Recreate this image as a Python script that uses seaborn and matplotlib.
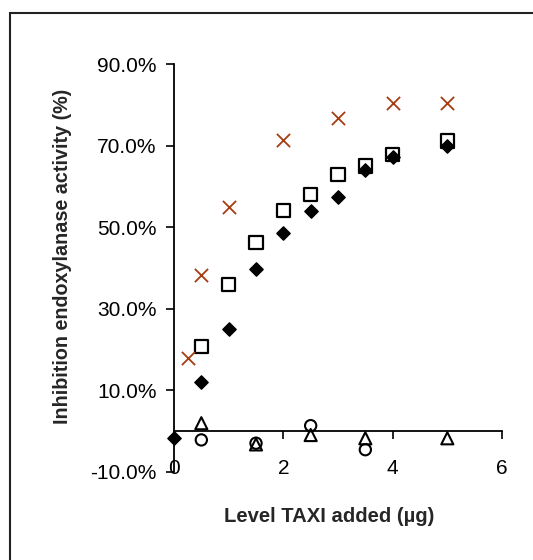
import matplotlib
matplotlib.use("Agg")
import matplotlib.pyplot as plt
import matplotlib.ticker as mticker
from matplotlib.patches import Rectangle
import seaborn as sns
import pandas as pd

# Level of TAXI added (µg) and inhibition of endoxylanase activity (%)
x_main = [0, 0.5, 1, 1.5, 2, 2.5, 3, 3.5, 4, 5]
y_filled_diamond = [-1.8, 11.9, 25.1, 39.8, 48.6, 54.0, 57.5, 64.0, 67.2, 70.0]

x_square = [0.5, 1, 1.5, 2, 2.5, 3, 3.5, 4, 5]
y_square = [20.8, 35.9, 46.2, 54.1, 58.0, 63.0, 65.0, 67.9, 71.2]

x_cross = [0.25, 0.5, 1, 2, 3, 4, 5]
y_cross = [17.8, 38.4, 54.9, 71.5, 76.9, 80.5, 80.5]

x_triangle = [0.5, 1.5, 2.5, 3.5, 5]
y_triangle = [1.9, -3.3, -1.0, -1.8, -1.8]

x_circle = [0.5, 1.5, 2.5, 3.5]
y_circle = [-2.2, -3.0, 1.3, -4.6]

x_ticks = [0, 2, 4, 6]
y_ticks = [-10, 10, 30, 50, 70, 90]

sns.set_theme(style="white")
plt.rcParams["font.family"] = ["Liberation Sans", "DejaVu Sans"]

fig = plt.figure(figsize=(5.33, 5.6), dpi=100)
ax = fig.add_axes([174 / 533, 1 - 471.7 / 560, 328 / 533, 407.4 / 560])

series = [
    ("Series 2", x_square, y_square, dict(marker="s", s=92, facecolor="none",
                                          edgecolor="black", linewidth=1.6)),
    ("Series 1", x_main, y_filled_diamond, dict(marker="D", s=46, color="black",
                                               edgecolor="black", linewidth=1.0)),
    ("Series 3", x_cross, y_cross, dict(marker="x", s=90, color="#A63C0F",
                                        linewidth=1.3)),
    ("Series 4", x_circle, y_circle, dict(marker="o", s=66, facecolor="none",
                                          edgecolor="black", linewidth=1.5)),
    ("Series 5", x_triangle, y_triangle, dict(marker="^", s=76, facecolor="none",
                                              edgecolor="black", linewidth=1.5)),
]

for name, xs, ys, style in series:
    df = pd.DataFrame({"level": xs, "inhibition": ys})
    sns.scatterplot(data=df, x="level", y="inhibition", ax=ax, legend=False,
                    zorder=3, clip_on=False, **style)

ax.set_xlim(0, 6)
ax.set_ylim(-10, 90)
ax.set_xticks(x_ticks)
ax.set_yticks(y_ticks)
ax.xaxis.set_major_formatter(mticker.FormatStrFormatter("%d"))
ax.yaxis.set_major_formatter(mticker.FuncFormatter(lambda v, p: f"{v:.1f}%"))

for side in ["top", "right"]:
    ax.spines[side].set_visible(False)
ax.spines["bottom"].set_position(("data", 0))
for side in ["left", "bottom"]:
    ax.spines[side].set_color("black")
    ax.spines[side].set_linewidth(1.3)

ax.tick_params(axis="both", which="major", direction="out", length=5.5,
               width=1.2, color="black", labelsize=15, labelcolor="black",
               left=True, bottom=True)
ax.tick_params(axis="x", pad=15)
ax.tick_params(axis="y", pad=7)

ax.set_xlabel("Level TAXI added (µg)", fontsize=14.6, fontweight="bold")
ax.set_ylabel("Inhibition endoxylanase activity (%)", fontsize=14.2,
              fontweight="bold")
ax.xaxis.set_label_coords((329 - 174) / 328, -(516 - 471.7) / 407.4)
ax.yaxis.set_label_coords(-(174 - 63) / 328, (471.7 - 256.5) / 407.4)
ax.xaxis.label.set_va("center")
ax.yaxis.label.set_va("center")
ax.grid(False)

# outer chart border
fig.patches.append(Rectangle((9.5 / 533, -0.2), 2.0, 1.2 - 13 / 560,
                             transform=fig.transFigure, fill=False,
                             edgecolor="#222222", linewidth=1.5))

fig.savefig("out.png", dpi=100, facecolor="white")
